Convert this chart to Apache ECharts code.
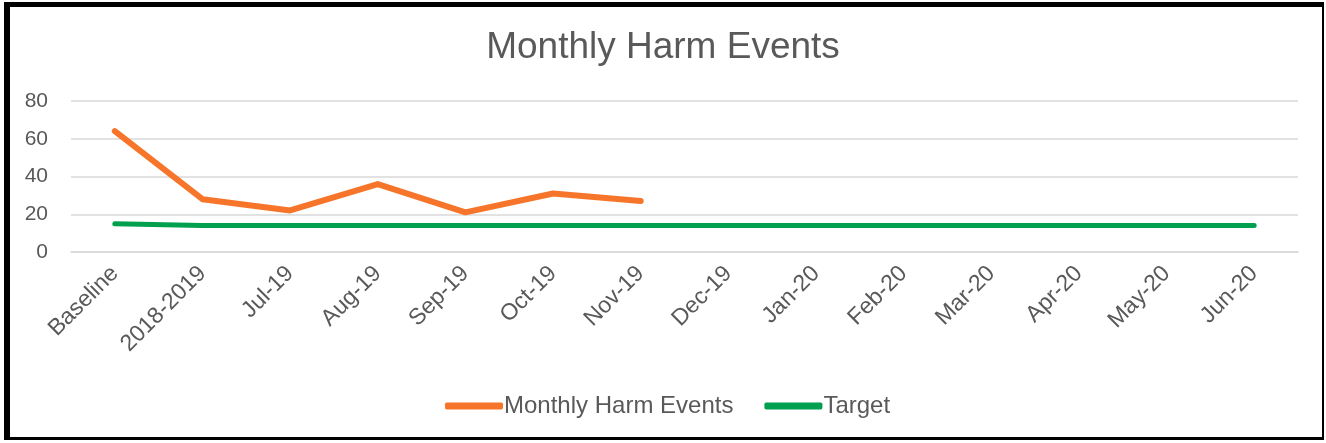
<!DOCTYPE html>
<html>
<head>
<meta charset="utf-8">
<script src="https://cdn.jsdelivr.net/npm/echarts@6/dist/echarts.min.js"></script>
<style>
    html, body { margin: 0; padding: 0; background: #fff; }
    #chart { position: absolute; left: 0; top: 0; width: 1326px; height: 443px; }
    /* outer frame drawn around the chart */
    #frame {
        position: absolute; left: 4px; top: 2px; width: 1312px; height: 430px;
        border-left: 6px solid #000; border-top: 5px solid #000;
        border-right: 2px solid #000; border-bottom: 3px solid #000;
        pointer-events: none;
    }
</style>
</head>
<body>
<div id="chart"></div>
<div id="frame"></div>
<script>
    // categories along the x axis
    const categories = ["Baseline", "2018-2019", "Jul-19", "Aug-19", "Sep-19", "Oct-19", "Nov-19",
        "Dec-19", "Jan-20", "Feb-20", "Mar-20", "Apr-20", "May-20", "Jun-20"];
    // monthly harm events (only filled up to Nov-19)
    const harmEvents = [64, 28, 22, 36, 21, 31, 27];
    // target line
    const target = [15, 14, 14, 14, 14, 14, 14, 14, 14, 14, 14, 14, 14, 14];
    const yTicks = { min: 0, max: 80, interval: 20 };

    const font = "'Liberation Sans', Arial, sans-serif";
    const textColor = "#595959";

    const myChart = echarts.init(document.getElementById("chart"));
    myChart.setOption({
        animation: false,
        title: {
            text: "Monthly Harm Events",
            left: "center",
            top: 24,
            textStyle: { fontFamily: font, fontSize: 37, fontWeight: "normal", color: textColor },
        },
        legend: {
            top: 389,
            left: 440,
            itemWidth: 58,
            itemHeight: 7,
            itemGap: 31,
            icon: "roundRect",
            textStyle: { fontFamily: font, fontSize: 24, color: textColor, padding: [0, 0, 0, -4] },
            data: ["Monthly Harm Events", "Target"],
        },
        grid: { left: 71, right: 28, top: 101, bottom: 191, containLabel: false },
        xAxis: {
            type: "category",
            data: categories,
            boundaryGap: true,
            axisLine: { lineStyle: { color: "#d9d9d9", width: 1.5 } },
            axisTick: { show: false },
            axisLabel: {
                interval: 0,
                rotate: 45,
                margin: 18,
                fontFamily: font,
                fontSize: 23,
                color: textColor,
            },
        },
        yAxis: {
            type: "value",
            min: yTicks.min,
            max: yTicks.max,
            interval: yTicks.interval,
            axisLine: { show: false },
            axisTick: { show: false },
            splitLine: { lineStyle: { color: "#d9d9d9", width: 1.5 } },
            axisLabel: { margin: 23, fontFamily: font, fontSize: 21, color: textColor },
        },
        series: [
            {
                name: "Monthly Harm Events",
                type: "line",
                data: harmEvents,
                symbol: "none",
                color: "#f7752a",
                lineStyle: { width: 6, cap: "round", join: "round" },
                z: 3,
            },
            {
                name: "Target",
                type: "line",
                data: target,
                symbol: "none",
                color: "#00a04e",
                lineStyle: { width: 5, cap: "round", join: "round" },
                z: 2,
            },
        ],
    });
</script>
</body>
</html>
